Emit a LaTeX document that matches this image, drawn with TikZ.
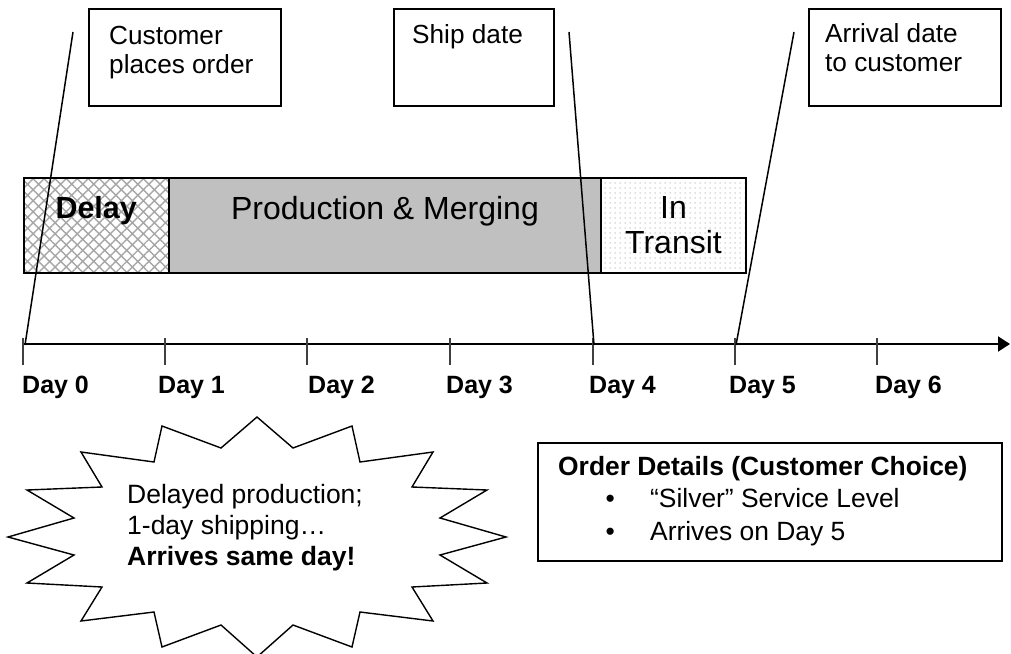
\documentclass[tikz,border=0pt]{standalone}
\usepackage{fontspec}
\setmainfont{Liberation Sans}
\usetikzlibrary{arrows.meta,patterns.meta}
\definecolor{silvergray}{RGB}{192,192,192}
\begin{document}
\begin{tikzpicture}[x=1pt,y=-1pt,
  callbox/.style={draw=black, line width=1.8pt, anchor=north west, inner sep=0pt, minimum height=97pt},
  calltext/.style={anchor=north west, inner sep=0pt, align=left, font=\fontsize{26.2}{29.5}\selectfont},
  barbox/.style={draw=black, line width=2pt, anchor=north west, inner sep=0pt, minimum height=95pt, align=center, font=\fontsize{32}{35}\selectfont},
  leader/.style={draw=black, line width=1.5pt},
  daytick/.style={draw=black!75, line width=1.3pt},
  daylabel/.style={anchor=base west, inner sep=0pt, font=\fontsize{25}{30}\selectfont\bfseries},
  burst/.style={draw=black, line width=1.4pt, line join=miter},
  ]
\useasboundingbox (0,0) rectangle (1011,653);

% callout boxes
\node[callbox, minimum width=192pt] (c1) at (88,8) {};
\node[calltext] (t1) at (109,26) {Customer\\places order};
\node[callbox, minimum width=160pt] (c2) at (393,8) {};
\node[calltext] (t2) at (412,24.5) {Ship date};
\node[callbox, minimum width=192pt] (c3) at (808,8) {};
\node[calltext] (t3) at (825,23) {Arrival date\\to customer};

% bar
\node[barbox, minimum width=145pt, pattern={Hatch[angle=45, distance=7.8pt, line width=1.4pt]}, pattern color=gray!70] (delay) at (23,177) {\fontsize{30.5}{35}\selectfont\bfseries Delay\\\mbox{}};
\node[barbox, minimum width=432pt, fill=silvergray] (prod) at (168,177) {Production \& Merging\\\mbox{}};
\node[barbox, minimum width=145pt, pattern={Dots[distance=5pt, radius=0.75pt]}, pattern color=gray!50] (transit) at (600,177) {In\\Transit};

% axis
\coordinate (axstart) at (23,344);
\coordinate (axend) at (1010,344);
\draw[line width=2pt, -{Triangle[length=12pt,width=15pt]}] (axstart) -- (axend);
\foreach \i/\x/\lx in {0/23/22,1/165/158,2/307/308,3/450/446,4/593/589,5/735/729,6/877/875}{
  \coordinate (d\i) at (\x,344);
  \draw[daytick] ([yshift=6pt]d\i) -- ([yshift=-21pt]d\i);
  \node[daylabel] (lab\i) at (\lx,393) {Day \i};
}

% leader lines
\coordinate (l1top) at (73,32);
\coordinate (l1bot) at (25,345);
\coordinate (l2top) at (569,32);
\coordinate (l2bot) at (594,345);
\coordinate (l3top) at (794,32);
\coordinate (l3bot) at (736,345);
\draw[leader] (l1top) -- (l1bot);
\draw[leader] (l2top) -- (l2bot);
\draw[leader] (l3top) -- (l3bot);

% starburst
\draw[burst] (257,417) -- (293,448) -- (352,426) -- (360,462) -- (433,452) -- (412,487)
  -- (487,490) -- (440,518) -- (506,537) -- (440,555) -- (487,583) -- (412,587)
  -- (433,621) -- (360,612) -- (352,647) -- (293,625) -- (257,657) -- (221,625)
  -- (162,647) -- (154,612) -- (81,621) -- (102,587) -- (27,583) -- (74,555)
  -- (8,537) -- (74,518) -- (27,490) -- (102,487) -- (81,452) -- (154,462)
  -- (162,426) -- (221,448) -- cycle;
\node[anchor=north west, inner sep=0pt, align=left, font=\fontsize{26.5}{31}\selectfont] (bursttext) at (127,484)
  {Delayed production;\\1-day shipping…\\\textbf{Arrives same day!}};

% order details
\node[draw=black, line width=2.2pt, anchor=north west, inner sep=0pt, minimum width=464pt, minimum height=118pt] (od) at (537,442) {};
\node[anchor=north west, inner sep=0pt, align=left, font=\fontsize{26.4}{32.5}\selectfont] (odtext) at (558,456)
  {\textbf{Order Details (Customer Choice)}\\
   \makebox[92pt][l]{\hspace*{47.5pt}•}“Silver” Service Level\\
   \makebox[92pt][l]{\hspace*{47.5pt}•}Arrives on Day 5};
\end{tikzpicture}
\end{document}
